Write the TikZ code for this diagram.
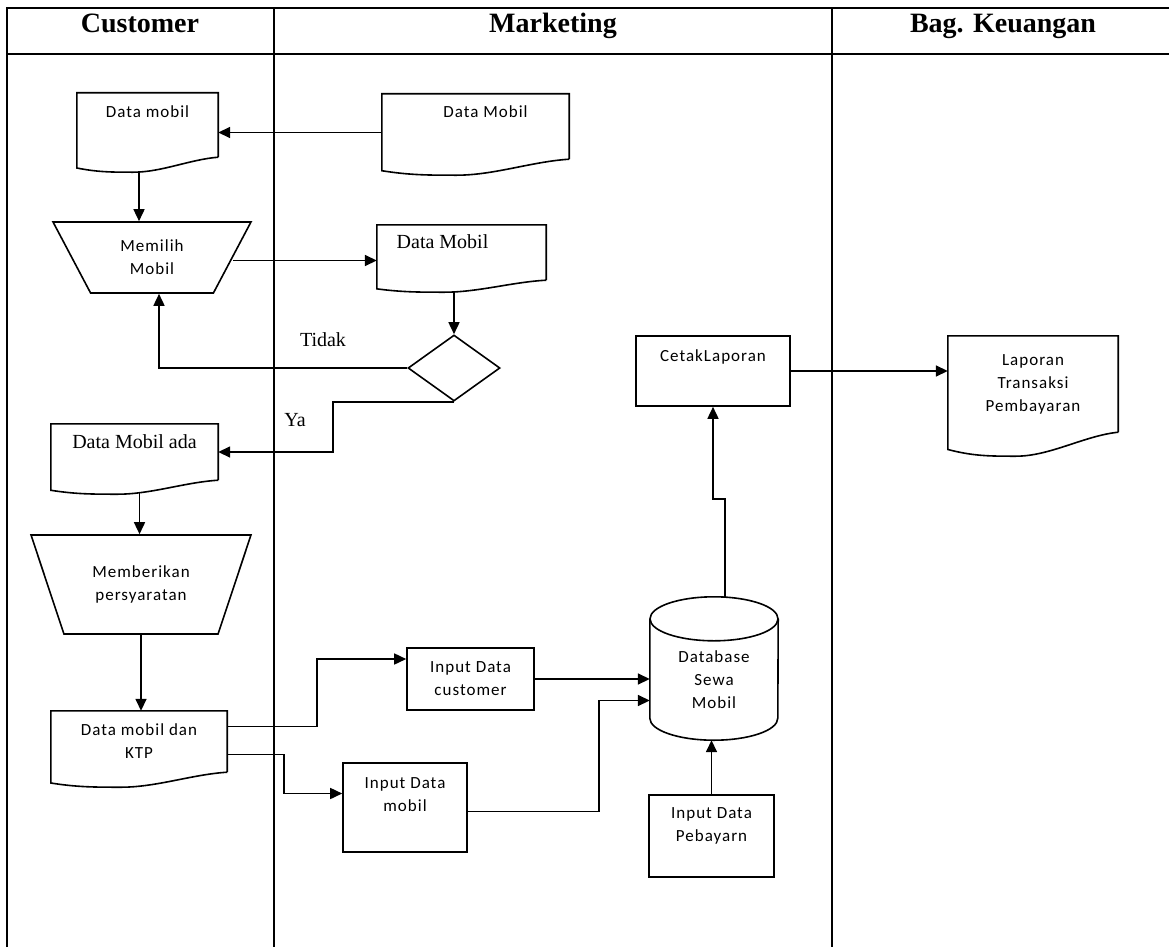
\documentclass[tikz,border=0pt]{standalone}
\usepackage{fontspec}
\setmainfont{Liberation Serif}
\newfontfamily\fsans[LetterSpace=6]{Carlito}
\usetikzlibrary{calc, shapes.geometric, arrows.meta}

\tikzset{
  garis/.style={line width=1.6pt},
  panah/.style={garis, -{Triangle[length=12pt, width=11pt]}},
  kotak/.style={rectangle, inner sep=0pt},
  isi/.style={font=\fsans\fontsize{17}{23}\selectfont, align=center, inner sep=0pt},
  isiserif/.style={font=\fontsize{20}{24}\selectfont, inner sep=0pt},
  judul/.style={font=\bfseries\fontsize{28}{30}\selectfont, anchor=base},
  trap/.style={trapezium, trapezium angle=61, trapezium stretches=true,
    shape border rotate=180, draw, garis, inner sep=0pt},
}

% outline of a document symbol around a named node
\newcommand{\dokumen}[2]{%
  \draw[garis] (#1.south east) -- (#1.north east) -- (#1.north west)
    -- ($(#1.south west)+(0,.72*#2)$)
    .. controls ($(#1.south west)!.15!(#1.south east)+(0,#2)$)
       and ($(#1.south west)!.25!(#1.south east)+(0,#2)$)
    .. ($(#1.south west)!.4!(#1.south east)+(0,#2)$)
    .. controls ($(#1.south west)!.6!(#1.south east)+(0,#2)$)
       and ($(#1.south west)!.8!(#1.south east)+(0,.15*#2)$)
    .. (#1.south east);}

% outline of a database cylinder around a named node
\newcommand{\tabung}[3]{%
  \draw[garis] ($(#1.north)+(0,#3)$) ellipse [x radius=#2pt, y radius=#3pt];
  \draw[garis] ($(#1.north west)+(0,#3)$) -- ($(#1.south west)+(0,-#3)$)
    arc [start angle=180, end angle=360, x radius=#2pt, y radius=#3pt]
    -- ($(#1.north east)+(0,#3)$);}

\begin{document}
\begin{tikzpicture}[x=1pt, y=-1pt]
  \useasboundingbox (0,0) rectangle (1169,947);

  % swimlanes
  \begin{scope}[garis]
    \draw (7,947) -- (7,8) -- (1169,8);
    \draw (7,54) -- (1169,54);
    \draw (274,8) -- (274,947);
    \draw (832,8) -- (832,947);
  \end{scope}
  \node[judul] (hcust) at (140,33) {Customer};
  \node[judul] (hmark) at (553,33) {Marketing};
  \node[judul] (hkeu) at (1003,33) {Bag. Keuangan};

  % customer lane
  \node[kotak, minimum width=141pt, minimum height=64pt,
    label={[isi, anchor=center, yshift=-19pt]north:Data mobil}] (dm1) at (147.5,125) {};
  \node[trap, minimum width=198pt, minimum height=71pt, isi] (pilih) at (152,257.5) {Memilih\\Mobil};
  \node[kotak, minimum width=167pt, minimum height=56pt,
    label={[isiserif, anchor=center, yshift=-18pt]north:Data Mobil ada}] (dmada) at (134.5,452) {};
  \node[trap, minimum width=220pt, minimum height=99pt, isi] (beri) at (141,584.5) {Memberikan\\persyaratan};
  \node[kotak, minimum width=176pt, minimum height=61pt, isi] (ktp) at (139,741.5) {Data mobil dan\\KTP};

  % marketing lane
  \node[kotak, minimum width=187pt, minimum height=65pt,
    label={[isi, anchor=center, xshift=10pt, yshift=-18pt]north:Data Mobil}] (dm2) at (475.5,126.5) {};
  \node[kotak, minimum width=169pt, minimum height=55pt,
    label={[isiserif, anchor=center, xshift=-19pt, yshift=-17pt]north:Data Mobil}] (dm3) at (461.5,252.5) {};
  \node[diamond, draw, garis, inner sep=0pt, aspect=1.4, minimum width=92pt, minimum height=66pt] (kpt) at (454,368) {};
  \node[kotak, draw, garis, minimum width=154pt, minimum height=70pt,
    label={[isi, anchor=center, yshift=-22pt]north:CetakLaporan}] (cetak) at (713,371) {};
  \node[kotak, draw, garis, minimum width=127pt, minimum height=62pt, isi] (idc) at (470.5,679) {Input Data\\customer};
  \node[kotak, draw, garis, minimum width=124pt, minimum height=89pt,
    label={[isi, anchor=center, yshift=-32pt]north:Input Data\\mobil}] (idm) at (405,807.5) {};
  \node[kotak, minimum width=128pt, minimum height=143pt,
    label={[isi, anchor=center, yshift=-83pt]north:Database\\Sewa\\Mobil}] (db) at (714,668.5) {};
  \node[kotak, draw, garis, minimum width=125pt, minimum height=82pt,
    label={[isi, anchor=center, yshift=-31.5pt]north:Input Data\\Pebayarn}] (pby) at (711.5,836) {};

  % keuangan lane
  \node[kotak, minimum width=170pt, minimum height=96pt, isi] (lap) at (1033,384) {Laporan\\Transaksi\\Pembayaran};

  \dokumen{dm1}{15}
  \dokumen{dm2}{16}
  \dokumen{dm3}{12}
  \dokumen{dmada}{14}
  \dokumen{ktp}{15}
  \dokumen{lap}{24}
  \tabung{db}{64}{22}

  \node[isiserif] (tidak) at (323,340) {Tidak};
  \node[isiserif] (ya) at (295,420) {Ya};

  % connectors
  \coordinate (p1) at ($(dm2.west)+(0,6)$);
  \coordinate (p2) at ($(dm1.south west)!.44!(dm1.south east)+(0,14)$);
  \coordinate (p4) at ($(kpt.north |- dm3.south)+(0,12)$);
  \coordinate (p7) at ($(dmada.south west)!.53!(dmada.south east)+(0,12)$);
  \draw[panah] (p1) -- (p1 -| dm1.east);
  \draw[panah] (p2) -- (p2 |- pilih.north);
  \draw[panah] ($(pilih.east)+(0,3)$) -- ($(pilih.east -| dm3.west)+(0,3)$);
  \draw[panah] (p4) -- (kpt.north);
  \draw[panah] (kpt.west) -| ($(pilih.south)+(7,0)$);
  \draw[panah] (kpt.south) -- ++(-121,0) |- (dmada.east);
  \draw[panah] (p7) -- (p7 |- beri.north);
  \draw[panah] (beri.south) -- (beri.south |- ktp.north);
  \draw[panah] ($(ktp.east)+(0,-15)$) -- ++(90,0) |- ($(idc.west)+(0,-20)$);
  \draw[panah] ($(ktp.east)+(0,13)$) -- ++(57,0) |- ($(idm.west)+(0,-14)$);
  \draw[panah] (idc.east) -- (idc.east -| db.west);
  \draw[panah] ($(idm.east)+(0,4)$) -- ++(131,0) |- ($(db.west)+(0,32)$);
  \draw[panah] (pby.north) -- (pby.north |- db.south);
  \draw[panah] ($(db.north)+(11,0)$) -- ++(0,-98) -| (cetak.south);
  \draw[panah] (cetak.east) -- (cetak.east -| lap.west);
\end{tikzpicture}
\end{document}
